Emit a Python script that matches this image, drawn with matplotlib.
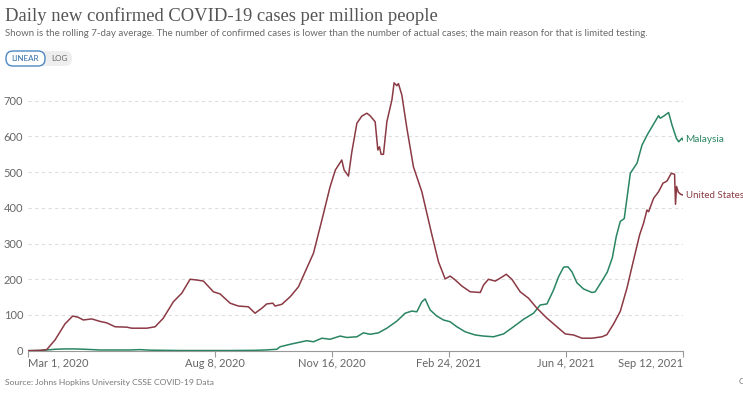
import matplotlib
matplotlib.use("Agg")
import matplotlib.pyplot as plt
from matplotlib.patches import FancyBboxPatch
import pandas as pd

START = pd.Timestamp("2020-03-01")

# Days since 2020-03-01 and values
us_days = [0, 10.7, 16.4, 23.5, 32, 38.6, 43, 47.7, 54.9, 62, 67.7, 74.8, 84.8, 89, 101.9, 109, 116,
           124.6, 131.8, 138.9, 144.6, 150.3, 158.8, 164.5, 173.1, 180.2, 188.7, 194.4, 200.2, 204.4,
           209.6, 211.5, 217.3, 224.4, 231.5, 237.2, 244.3, 251.5, 258.5, 263, 268.5, 270.5, 274.2,
           277.1, 281.4, 285.6, 289.9, 292.7, 297, 299.3, 300.7, 302.1, 304.1, 307, 311.3, 313.2,
           315.6, 316.9, 319.8, 324.1, 329.7, 336.9, 345.5, 351.1, 356.8, 361.1, 365.4, 371.1, 378.2,
           386.8, 389.6, 393.8, 399.6, 403.8, 409, 413.8, 420.9, 428, 435.2, 443.8, 452.3, 459.4,
           466.5, 473.7, 482.2, 490.8, 495, 500.7, 506.4, 512.1, 516.4, 522.9, 526.3, 529.2, 530.6,
           534.9, 539.1, 542.9, 546.3, 550, 552.8, 553.6, 554.5, 556, 558, 560]
us_vals = [0, 1, 3, 30, 75, 97, 94, 86, 89, 82, 78, 67, 66, 63, 63, 67, 91,
           137, 161, 200, 198, 195, 165, 159, 133, 125, 123, 105, 119, 131,
           133, 125, 130, 151, 179, 221, 273, 366, 459, 506, 534, 506, 489,
           557, 637, 657, 665, 658, 641, 562, 571, 550, 550, 641, 702, 750,
           742, 748, 716, 623, 515, 445, 324, 249, 201, 209, 198, 181, 165,
           163, 184, 200, 195, 203, 214, 200, 165, 147, 119, 91, 67, 47,
           44, 35, 35, 39, 45, 75, 110, 175, 235, 324, 357, 394, 389,
           427, 445, 469, 475, 497, 494, 410, 460, 444, 438, 436]

my_days = [0, 10.7, 16.4, 23.5, 32, 40.6, 49.1, 62, 87.6, 96, 104.7, 130, 173, 194.4, 203, 213,
           215.8, 224.4, 238.6, 244.3, 251.5, 258.5, 267.1, 272.8, 281.4, 287, 292.7, 299.8, 307,
           315.6, 322.6, 328.4, 332.6, 336.9, 339.7, 344, 349.7, 355.4, 361.1, 366.8, 373.9, 382.5,
           389.6, 398.1, 406.7, 415.2, 423.8, 432.3, 438, 443.8, 449.4, 453.7, 458, 461.7, 465.1,
           469.4, 475, 482.2, 485, 490.7, 495.3, 499.6, 503, 506.4, 509.8, 515, 520.7, 525, 529.7,
           539.1, 540.6, 544, 547.7, 550.6, 554.3, 556.3, 559.1, 560]
my_vals = [0, 0.5, 2, 4, 5, 5, 4, 2, 2, 3, 1.5, 0.5, 0.5, 1, 2, 4,
           11, 18, 28, 25, 35, 32, 41, 37, 39, 50, 46, 50, 63,
           83, 105, 111, 109, 137, 145, 114, 97, 86, 81, 67, 53, 44,
           41, 39, 47, 67, 88, 105, 128, 131, 170, 207, 234, 235, 221,
           190, 173, 163, 165, 195, 220, 260, 320, 362, 370, 497, 525, 576, 606,
           658, 651, 658, 667, 632, 595, 585, 595, 590]

x_tick_dates = ["2020-03-01", "2020-08-08", "2020-11-16", "2021-02-24", "2021-06-04", "2021-09-12"]
x_tick_labels = ["Mar 1, 2020", "Aug 8, 2020", "Nov 16, 2020", "Feb 24, 2021", "Jun 4, 2021", "Sep 12, 2021"]
y_ticks = [0, 100, 200, 300, 400, 500, 600, 700]

US_COLOR = "#8b3a44"
MY_COLOR = "#2a8562"
TXT = "#666666"

us_dates = START + pd.to_timedelta(us_days, unit="D")
my_dates = START + pd.to_timedelta(my_days, unit="D")

W, H = 743, 396
fig = plt.figure(figsize=(W / 100, H / 100), dpi=100)
fig.patch.set_facecolor("white")

top_val = 760
ax = fig.add_axes([27.5 / W, 1 - 350.7 / H, (683 - 27.5) / W, (top_val * 0.3571) / H])
ax.set_xlim(START, pd.Timestamp("2021-09-12"))
ax.set_ylim(0, top_val)

for v in y_ticks[1:]:
    ax.axhline(v, color="#dddddd", lw=0.8, ls=(0, (3, 3)), zorder=0)

ax.plot(my_dates, my_vals, color=MY_COLOR, lw=1.1, zorder=3, solid_joinstyle="round")
ax.plot(us_dates, us_vals, color=US_COLOR, lw=1.1, zorder=3, solid_joinstyle="round")

for s in ["top", "right", "left"]:
    ax.spines[s].set_visible(False)
ax.spines["bottom"].set_color("#999999")
ax.spines["bottom"].set_linewidth(0.8)

ax.set_yticks(y_ticks)
ax.set_yticklabels([str(v) for v in y_ticks], fontfamily="Lato", fontsize=8, color=TXT)
ax.tick_params(axis="y", length=0, pad=3)

ax.set_xticks(pd.to_datetime(x_tick_dates))
ax.set_xticklabels(x_tick_labels, fontfamily="Lato", fontsize=8, color=TXT)
ax.tick_params(axis="x", length=4, color="#999999", width=0.8, pad=1)
lbls = ax.get_xticklabels()
lbls[0].set_horizontalalignment("left")
lbls[-1].set_horizontalalignment("right")

ax.text(1.004, 592, "Malaysia", transform=ax.get_yaxis_transform(), color=MY_COLOR,
        fontfamily="Lato", fontsize=7.2, va="center", ha="left", clip_on=False)
ax.text(1.004, 434, "United States", transform=ax.get_yaxis_transform(), color=US_COLOR,
        fontfamily="Lato", fontsize=7.0, va="center", ha="left", clip_on=False)

# Title, subtitle
fig.text(5 / W, 1 - 16 / H, "Daily new confirmed COVID-19 cases per million people",
         fontfamily="Liberation Serif", fontsize=13.4, color="#555555", va="center", ha="left")
fig.text(5 / W, 1 - 33 / H,
         "Shown is the rolling 7-day average. The number of confirmed cases is lower than the number of actual cases; the main reason for that is limited testing.",
         fontfamily="Lato", fontsize=7.0, color="#6a6a6a", va="center", ha="left")

# LINEAR / LOG toggle
bax = fig.add_axes([0, 0, 1, 1], facecolor="none")
bax.set_xlim(0, W)
bax.set_ylim(H, 0)
bax.axis("off")
bax.add_patch(FancyBboxPatch((8, 51), 64, 15, boxstyle="round,pad=0,rounding_size=7",
                             fc="#eeeeee", ec="none"))
bax.add_patch(FancyBboxPatch((6, 51), 39, 15, boxstyle="round,pad=0,rounding_size=7",
                             fc="white", ec="#4d88c4", lw=1))
bax.text(25.5, 58.8, "LINEAR", fontfamily="Lato", fontsize=5.8, color="#2f6ca8", ha="center", va="center")
bax.text(59, 58.8, "LOG", fontfamily="Lato", fontsize=5.8, color="#666666", ha="center", va="center")

fig.text(5 / W, 1 - 382 / H, "Source: Johns Hopkins University CSSE COVID-19 Data",
         fontfamily="Lato", fontsize=6.1, color="#777777", va="center", ha="left")
fig.text(739 / W, 1 - 382 / H, "CC BY", fontfamily="Lato", fontsize=6.1, color="#777777",
         va="center", ha="left")

fig.savefig("out.png", dpi=100, facecolor="white")
